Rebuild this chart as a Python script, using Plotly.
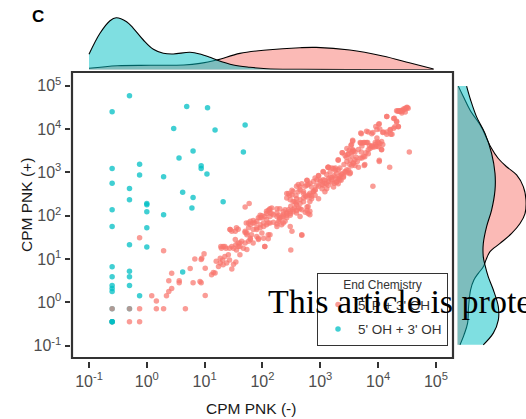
import plotly.graph_objects as go

W, H = 526, 419

# ---- scatter data (log10 CPM) ----
red_lx = [4.35,4.39,4.44,4.47,4.50,4.52,4.41,4.37,4.32,4.15,
          4.28,4.32,4.27,4.35,4.21,4.15,4.22,4.08,4.03,4.02,
          3.96,3.91,3.80,3.70,3.98,4.06,4.01,3.95,3.91,3.85,
          3.80,3.75,3.70,3.56,3.53,3.56,3.50,3.47,3.57,3.38,
          3.31,3.45,3.54,3.62,3.69,3.75,3.79,3.83,3.77,3.89,
          3.98,4.06,4.02,4.20,4.54,3.91,3.46,3.51,3.57,3.41,
          3.34,3.31,3.26,3.20,3.14,3.05,3.11,3.17,3.24,3.28,
          3.37,3.40,3.43,3.46,3.51,3.33,3.34,3.28,3.24,3.20,
          3.14,3.05,3.08,3.03,2.97,2.94,2.91,2.97,3.00,2.88,
          2.82,2.79,2.77,2.74,2.71,2.65,2.62,2.59,2.53,2.58,
          2.51,2.45,2.42,2.48,2.53,2.58,2.65,2.71,2.74,2.79,
          2.82,2.88,2.91,2.85,2.82,2.79,2.77,2.82,2.74,2.68,
          2.62,2.59,2.55,2.49,2.45,2.39,2.42,2.48,2.42,2.36,
          2.30,2.25,2.16,2.12,2.13,2.07,2.04,1.99,1.96,1.90,
          1.87,1.84,1.79,1.76,1.90,1.96,1.99,2.02,2.07,2.13,
          2.19,2.25,2.28,2.33,2.39,2.48,2.51,2.68,2.13,2.10,
          2.02,1.93,1.90,1.84,1.79,1.73,1.70,1.72,1.79,1.70,
          1.77,1.61,1.58,1.54,1.47,1.43,1.37,1.32,1.28,1.44,
          1.53,1.58,2.04,1.73,
          0.95,0.99,1.01,0.92,1.01,1.12,1.18,1.20,1.15,1.24,1.27,1.31,
          1.35,1.32,1.38,1.43,1.47,1.50,1.54,1.61,1.41,1.27,2.49,1.55,
          -0.125,0.29,0.83,0.94,0.75,0.43,0.38,0.56,0.56,0.80,0.94,0.43,
          0.38,0.085,0.34,0.165,-0.125,0.165,0.29,0.667,-0.30,-0.125,-0.60,
          4.34,4.38,4.42,4.46,4.50,4.47,4.41,4.15,4.27,4.32,4.01,4.35,4.29,4.21,
          4.09,4.15,4.24,3.98,3.83,3.89,3.71,3.56,3.54,3.69,3.73,3.77,3.82,3.72,
          3.95,3.99,4.03,4.08,4.01,3.95,3.89,3.86,3.83,3.77,3.72,3.64,3.60,3.57,
          3.52,3.49,3.46,3.38,3.43,3.54,3.60,3.57,3.31,3.66,3.71,4.06,4.02,3.76,
          3.66,3.60,3.54,3.49,3.52,3.43,3.37,3.34,3.31,3.36,3.40,3.46,3.28,3.26,
          3.20,3.14,3.17,3.23,3.26,3.13,3.20,3.14,3.11,3.08,3.23,3.31,
          1.76,1.70,1.81,1.84,1.90,1.96,1.99,2.02,2.07,2.13,2.19,2.25,2.30,2.36,
          2.42,2.48,2.53,2.10,2.04,1.93,1.55,1.44,1.47,1.29,2.65,2.59,2.36,2.25,
          2.10,1.84,1.93,2.07,1.35,1.64,1.53,1.50,1.58,1.61,1.67,1.70,1.76,1.79,
          1.73,2.68,2.82,
          3.14,3.05,2.97,3.00,3.08,3.11,3.05,3.03,2.94,2.91,2.85,2.77,2.77,2.68,
          2.65,2.62,2.71,2.77,2.82,2.85,2.88,2.91,2.97,2.59,2.51,2.42,2.47,2.56,
          2.65,2.71,2.77,2.79,2.65,2.59,2.53,2.48,2.42,2.36,2.30,2.25,2.13,2.10,
          2.16,2.28,2.33,1.96]
red_ly = [4.42,4.43,4.46,4.48,4.50,4.48,4.41,4.41,4.42,4.29,
          4.25,4.18,4.02,4.06,3.98,3.93,3.88,3.92,4.00,4.12,
          4.06,3.92,3.95,3.91,3.79,3.71,3.69,3.64,3.58,3.62,
          3.69,3.69,3.68,3.74,3.62,3.52,3.51,3.41,3.48,3.45,
          3.29,3.35,3.38,3.35,3.33,3.37,3.45,3.52,3.18,3.60,
          3.60,3.52,3.28,3.12,3.47,2.68,3.25,3.18,3.22,3.18,
          3.10,3.06,3.10,3.10,3.12,3.02,2.95,2.89,2.92,2.98,
          2.95,2.91,3.02,3.06,2.97,2.87,2.83,2.77,2.75,2.83,
          2.79,2.83,2.75,2.72,2.68,2.83,2.87,2.92,2.79,2.79,
          2.75,2.72,2.81,2.68,2.56,2.60,2.72,2.68,2.56,2.46,
          2.48,2.51,2.41,2.37,2.33,2.29,2.37,2.41,2.45,2.48,
          2.52,2.56,2.60,2.45,2.33,2.21,2.12,2.02,2.08,2.14,
          2.18,2.25,2.18,2.22,2.14,2.14,2.06,2.01,1.95,1.98,
          1.95,1.98,2.18,2.14,2.06,2.05,1.98,2.00,1.95,1.87,
          1.83,1.89,1.79,1.72,1.68,1.72,1.60,1.75,1.79,1.83,
          1.85,1.81,1.87,1.79,1.87,1.75,1.64,1.56,1.56,1.47,
          1.48,1.45,1.52,1.37,1.45,1.56,1.61,1.83,1.87,2.20,
          2.28,1.37,1.29,1.33,1.29,1.25,1.25,1.29,1.29,1.68,
          1.64,1.69,1.29,1.22,
          1.02,1.12,0.79,0.48,0.16,0.64,0.68,0.95,0.69,0.83,0.91,0.98,
          1.06,0.87,0.91,0.98,0.77,0.88,0.93,1.10,1.10,1.02,1.21,1.21,
          1.49,1.19,1.00,0.99,0.78,0.67,0.50,0.50,0.45,0.45,0.45,0.32,
          0.25,0.15,0.15,0.03,-0.146,-0.146,-0.146,-0.146,-0.45,-0.45,-0.45,
          4.41,4.41,4.43,4.45,4.49,4.39,4.37,4.29,4.24,4.16,4.11,4.05,4.05,3.99,
          3.93,3.88,3.88,3.99,3.93,3.89,3.89,3.72,3.64,3.69,3.68,3.69,3.69,3.61,
          3.69,3.70,3.66,3.64,3.59,3.59,3.61,3.55,3.43,3.36,3.33,3.25,3.29,3.20,
          3.28,3.43,3.55,3.45,3.39,3.47,3.47,3.51,3.28,3.53,3.47,3.53,3.25,3.16,
          3.12,3.16,3.15,3.05,2.99,3.01,2.97,2.92,2.85,2.82,2.89,2.99,2.78,2.87,
          2.89,2.85,3.01,3.09,3.05,3.12,2.78,2.70,2.62,2.55,2.66,2.74,
          1.83,1.64,1.56,1.68,1.72,1.79,1.95,1.83,1.91,1.98,2.02,2.06,1.91,2.02,
          2.06,2.10,2.14,1.56,1.29,1.48,1.72,1.68,1.64,1.25,1.98,2.06,1.83,1.75,
          1.83,1.83,1.95,2.10,1.29,1.41,1.45,1.25,1.37,1.29,1.25,1.37,1.41,1.48,
          1.60,1.55,2.10,
          3.12,3.01,2.93,2.82,2.82,2.74,2.70,2.62,2.70,2.59,2.66,2.82,2.70,2.74,
          2.66,2.55,2.51,2.43,2.47,2.39,2.55,2.47,2.39,2.39,2.59,2.51,2.47,2.32,
          2.28,2.32,2.20,2.05,2.16,2.12,2.09,2.05,2.01,2.09,2.16,2.16,2.16,2.12,
          2.05,2.01,1.97,2.01]
# red points lying on top of teal ones
red_top_lx = [-0.60, -0.30]
red_top_ly = [-0.146, -0.146]

teal_lx = [-0.30,-0.60,0.69,1.05,0.465,1.18,1.70,0.80,1.67,0.557,-0.125,0.94,0.94,-0.60,
           -0.125,1.04,0.29,-0.60,-0.30,0.62,0.80,-0.30,1.32,0.0,0.0,0.78,0.0,-0.60,0.29,
           -0.60,0.0,-0.30,0.0,-0.60,-0.30,0.62,-0.60,-0.30,-0.60,-0.60,-0.60,-0.30,-0.125,
           -0.60,-0.30,-0.60,-0.60,-0.60]
teal_ly = [4.77,4.40,4.52,4.49,4.01,3.98,4.09,3.49,3.47,3.33,3.19,3.15,3.09,3.09,
           2.94,2.96,2.90,2.75,2.63,2.54,2.42,2.37,2.32,2.28,2.25,2.18,2.09,2.14,2.02,
           1.75,1.72,1.33,1.28,0.82,0.72,0.70,0.59,0.59,0.39,0.32,0.25,0.39,0.15,
           -0.146,-0.146,-0.45,-0.45,-0.45]

# ---- marginal densities ----
top_teal_lx = [-1.0,-0.81,-0.637,-0.53,-0.35,-0.233,-0.06,0.113,0.286,0.459,0.747,0.92,
               1.093,1.21,1.497,1.785,2.07,2.65,3.5,4.96]
top_teal_d = [0.154,0.364,0.49,0.52,0.48,0.414,0.297,0.204,0.164,0.157,0.174,0.157,
              0.124,0.097,0.047,0.024,0.010,0.004,0.001,0.0]
top_red_lx = [-1.0,-0.51,0.06,0.64,0.92,1.21,1.61,2.07,2.65,2.93,3.51,4.08,4.54,4.96]
top_red_d = [0.014,0.040,0.044,0.047,0.063,0.097,0.163,0.197,0.220,0.223,0.197,0.137,0.070,0.007]

right_red_ly = [4.99,4.75,4.44,4.05,3.59,3.32,3.13,2.94,2.67,2.36,2.05,1.82,1.59,1.36,
                1.17,0.98,0.82,0.67,0.52,0.29,-0.10,-0.48,-0.75,-0.98]
right_red_d = [0.010,0.060,0.127,0.240,0.333,0.410,0.493,0.593,0.660,0.687,0.677,0.627,
               0.543,0.427,0.327,0.287,0.260,0.210,0.167,0.133,0.113,0.103,0.067,0.027]
right_teal_ly = [4.99,4.67,4.28,3.90,3.44,2.98,2.59,2.13,1.75,1.36,1.05,0.86,0.59,0.29,
                 -0.10,-0.41,-0.71,-0.98]
right_teal_d = [0.093,0.133,0.193,0.277,0.343,0.377,0.377,0.343,0.293,0.260,0.260,0.277,
                0.310,0.360,0.410,0.410,0.360,0.260]

tick_exps = [-1, 0, 1, 2, 3, 4, 5]
series_names = ["5' P + 3' OH", "5' OH + 3' OH"]
RED = "#F8766D"
TEAL = "#00BFC4"

def px(x):
    return x / W

def py(y):
    return 1 - y / H

def p10(v):
    return [10 ** a for a in v]

fig = go.Figure()

# main scatter
fig.add_trace(go.Scatter(x=p10(red_lx), y=p10(red_ly), mode="markers", name=series_names[0],
                         legendgroup="r", marker=dict(color=RED, size=5.5, opacity=0.72),
                         xaxis="x", yaxis="y"))
fig.add_trace(go.Scatter(x=p10(teal_lx), y=p10(teal_ly), mode="markers", name=series_names[1],
                         legendgroup="t", marker=dict(color=TEAL, size=5.5, opacity=0.75),
                         xaxis="x", yaxis="y"))
fig.add_trace(go.Scatter(x=p10(red_top_lx), y=p10(red_top_ly), mode="markers", showlegend=False,
                         legendgroup="r", marker=dict(color=RED, size=5.5, opacity=0.6),
                         xaxis="x", yaxis="y"))

# top density
fig.add_trace(go.Scatter(x=p10(top_red_lx), y=top_red_d, mode="lines", fill="tozeroy",
                         fillcolor="rgba(248,118,109,0.5)", line=dict(color="black", width=1.1, shape="spline"),
                         showlegend=False, xaxis="x2", yaxis="y2", hoverinfo="skip"))
fig.add_trace(go.Scatter(x=p10(top_teal_lx), y=top_teal_d, mode="lines", fill="tozeroy",
                         fillcolor="rgba(0,191,196,0.5)", line=dict(color="black", width=1.1, shape="spline"),
                         showlegend=False, xaxis="x2", yaxis="y2", hoverinfo="skip"))
# right density
fig.add_trace(go.Scatter(x=right_red_d, y=p10(right_red_ly), mode="lines", fill="tozerox",
                         fillcolor="rgba(248,118,109,0.5)", line=dict(color="black", width=1.1, shape="spline"),
                         showlegend=False, xaxis="x3", yaxis="y3", hoverinfo="skip"))
fig.add_trace(go.Scatter(x=right_teal_d, y=p10(right_teal_ly), mode="lines", fill="tozerox",
                         fillcolor="rgba(0,191,196,0.5)", line=dict(color="black", width=1.1, shape="spline"),
                         showlegend=False, xaxis="x3", yaxis="y3", hoverinfo="skip"))

tickvals = [10 ** e for e in tick_exps]
ticktext = ["10<sup>%d</sup>" % e for e in tick_exps]
tickfont = dict(family="Liberation Sans, Arial, sans-serif", size=16, color="#4d4d4d")

x_dom = [px(70.5), px(455)]
y_dom = [py(361), py(70)]

fig.update_layout(
    width=W, height=H,
    margin=dict(l=0, r=0, t=0, b=0),
    paper_bgcolor="white", plot_bgcolor="white",
    font=dict(family="Liberation Sans, Arial, sans-serif", color="#1a1a1a"),
    xaxis=dict(domain=x_dom, type="log", range=[-1.32, 5.33], anchor="y",
               tickvals=tickvals, ticktext=ticktext, tickfont=tickfont,
               ticks="outside", ticklen=6, tickwidth=1.5, tickcolor="#333333",
               showgrid=False, zeroline=False, showline=False),
    yaxis=dict(domain=y_dom, type="log", range=[-1.353, 5.362], anchor="x",
               tickvals=tickvals, ticktext=ticktext, tickfont=tickfont,
               ticks="outside", ticklen=5, tickwidth=1.5, tickcolor="#333333",
               showgrid=False, zeroline=False, showline=False),
    xaxis2=dict(domain=x_dom, type="log", matches="x", anchor="y2", visible=False),
    yaxis2=dict(domain=[py(69.7), py(15.7)], range=[0, 0.54], anchor="x2", visible=False),
    xaxis3=dict(domain=[px(457.3), 1.0], range=[0, 0.687], anchor="y3", visible=False),
    yaxis3=dict(domain=y_dom, type="log", matches="y", anchor="x3", visible=False),
    legend=dict(x=px(317), y=py(272.5), xanchor="left", yanchor="top",
                bgcolor="white", bordercolor="#333333", borderwidth=1,
                font=dict(size=13.5, color="#333333"),
                title=dict(text="End Chemistry", side="top center",
                           font=dict(size=12, color="#333333")),
                tracegroupgap=4, itemwidth=30),
    shapes=[dict(type="rect", xref="paper", yref="paper",
                 x0=px(72), x1=px(453), y0=py(358), y1=py(72),
                 line=dict(color="#333333", width=2.2), fillcolor="rgba(0,0,0,0)", layer="above")],
    annotations=[
        dict(text="<b>C</b>", x=px(30), y=py(16.5), xref="paper", yref="paper",
             xanchor="left", yanchor="middle", showarrow=False,
             font=dict(size=17, color="black")),
        dict(text="CPM PNK (-)", x=px(251), y=py(408), xref="paper", yref="paper",
             xanchor="center", yanchor="middle", showarrow=False,
             font=dict(size=15.5, color="#1a1a1a")),
        dict(text="CPM PNK (+)", x=px(26), y=py(205), xref="paper", yref="paper",
             xanchor="center", yanchor="middle", showarrow=False, textangle=-90,
             font=dict(size=15.5, color="#1a1a1a")),
        dict(text="This article is protected by copyright. All rights reserved.",
             x=px(265.5), y=py(301.2), xref="paper", yref="paper",
             xanchor="left", yanchor="middle", showarrow=False,
             font=dict(family="Liberation Serif, Times New Roman, serif", size=34, color="black")),
    ],
)

fig.write_html("out.html")
